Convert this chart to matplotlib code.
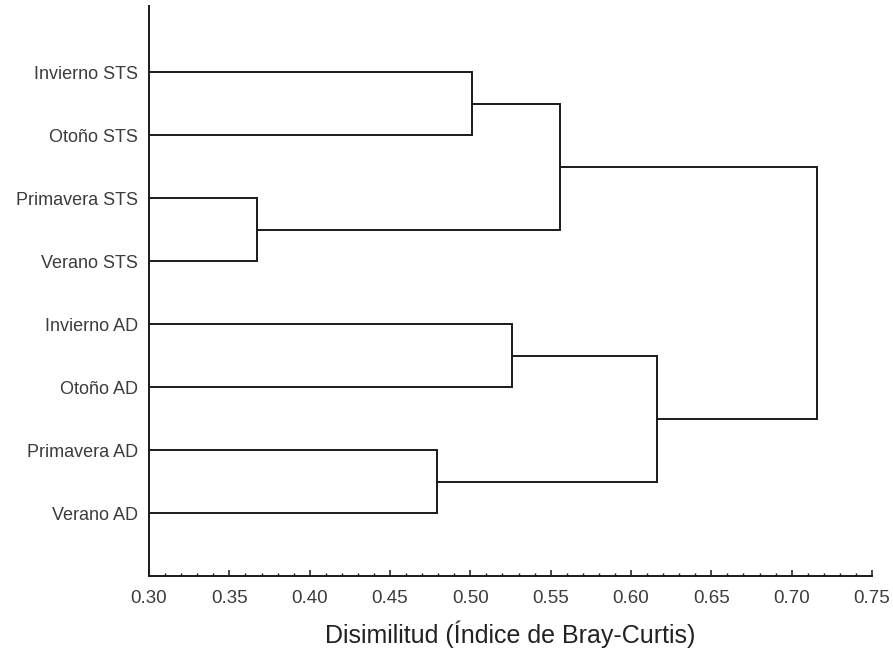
import matplotlib
matplotlib.use("Agg")
import matplotlib.pyplot as plt
from matplotlib.ticker import MultipleLocator

plt.rcParams["font.family"] = ["Liberation Sans", "DejaVu Sans"]

# leaves from top to bottom
labels = ["Invierno STS", "Otoño STS", "Primavera STS", "Verano STS",
          "Invierno AD", "Otoño AD", "Primavera AD", "Verano AD"]

# merges: (child a, child b, dissimilarity); new nodes numbered from 8
merge_a = [0, 2, 8, 4, 6, 11, 10]
merge_b = [1, 3, 9, 5, 7, 12, 13]
merge_h = [0.501, 0.367, 0.556, 0.526, 0.479, 0.616, 0.716]

x_ticks = [0.30, 0.35, 0.40, 0.45, 0.50, 0.55, 0.60, 0.65, 0.70, 0.75]
base = 0.30

fig = plt.figure(figsize=(8.93, 6.55), dpi=100)
ax = fig.add_axes([0.1669, 0.1206, 0.8096, 0.8702])

text_col = "#3c3c3c"
line_col = "#1a1a1a"
lw = 1.4

# node position (y) and height (x)
pos_y = {i: float(i) for i in range(len(labels))}
pos_x = {i: base for i in range(len(labels))}

for k, (a, b, h) in enumerate(zip(merge_a, merge_b, merge_h)):
    node = len(labels) + k
    ya, yb = pos_y[a], pos_y[b]
    ax.plot([pos_x[a], h, h, pos_x[b]], [ya, ya, yb, yb],
            color=line_col, lw=lw, solid_joinstyle="miter")
    pos_y[node] = (ya + yb) / 2
    pos_x[node] = h

ax.set_xlim(0.30, 0.75)
ax.set_ylim(8.0, -1.05)

ax.set_xticks(x_ticks)
ax.set_xticklabels([f"{t:.2f}" for t in x_ticks])
ax.xaxis.set_minor_locator(MultipleLocator(0.01))
ax.tick_params(axis="x", which="major", direction="in", length=4, width=1.1,
               color=line_col, labelsize=13.5, labelcolor=text_col, pad=10)
ax.tick_params(axis="x", which="minor", direction="in", length=2.2, width=1.0,
               color=line_col)

ax.set_yticks(range(len(labels)))
ax.set_yticklabels(labels)
ax.tick_params(axis="y", length=0, labelsize=13, labelcolor=text_col, pad=8)

for side in ("top", "right"):
    ax.spines[side].set_visible(False)
for side in ("left", "bottom"):
    ax.spines[side].set_linewidth(1.4)
    ax.spines[side].set_color(line_col)

ax.set_xlabel("Disimilitud (Índice de Bray-Curtis)", fontsize=18,
              color="#222222", labelpad=10)

fig.savefig("out.png", dpi=100)
